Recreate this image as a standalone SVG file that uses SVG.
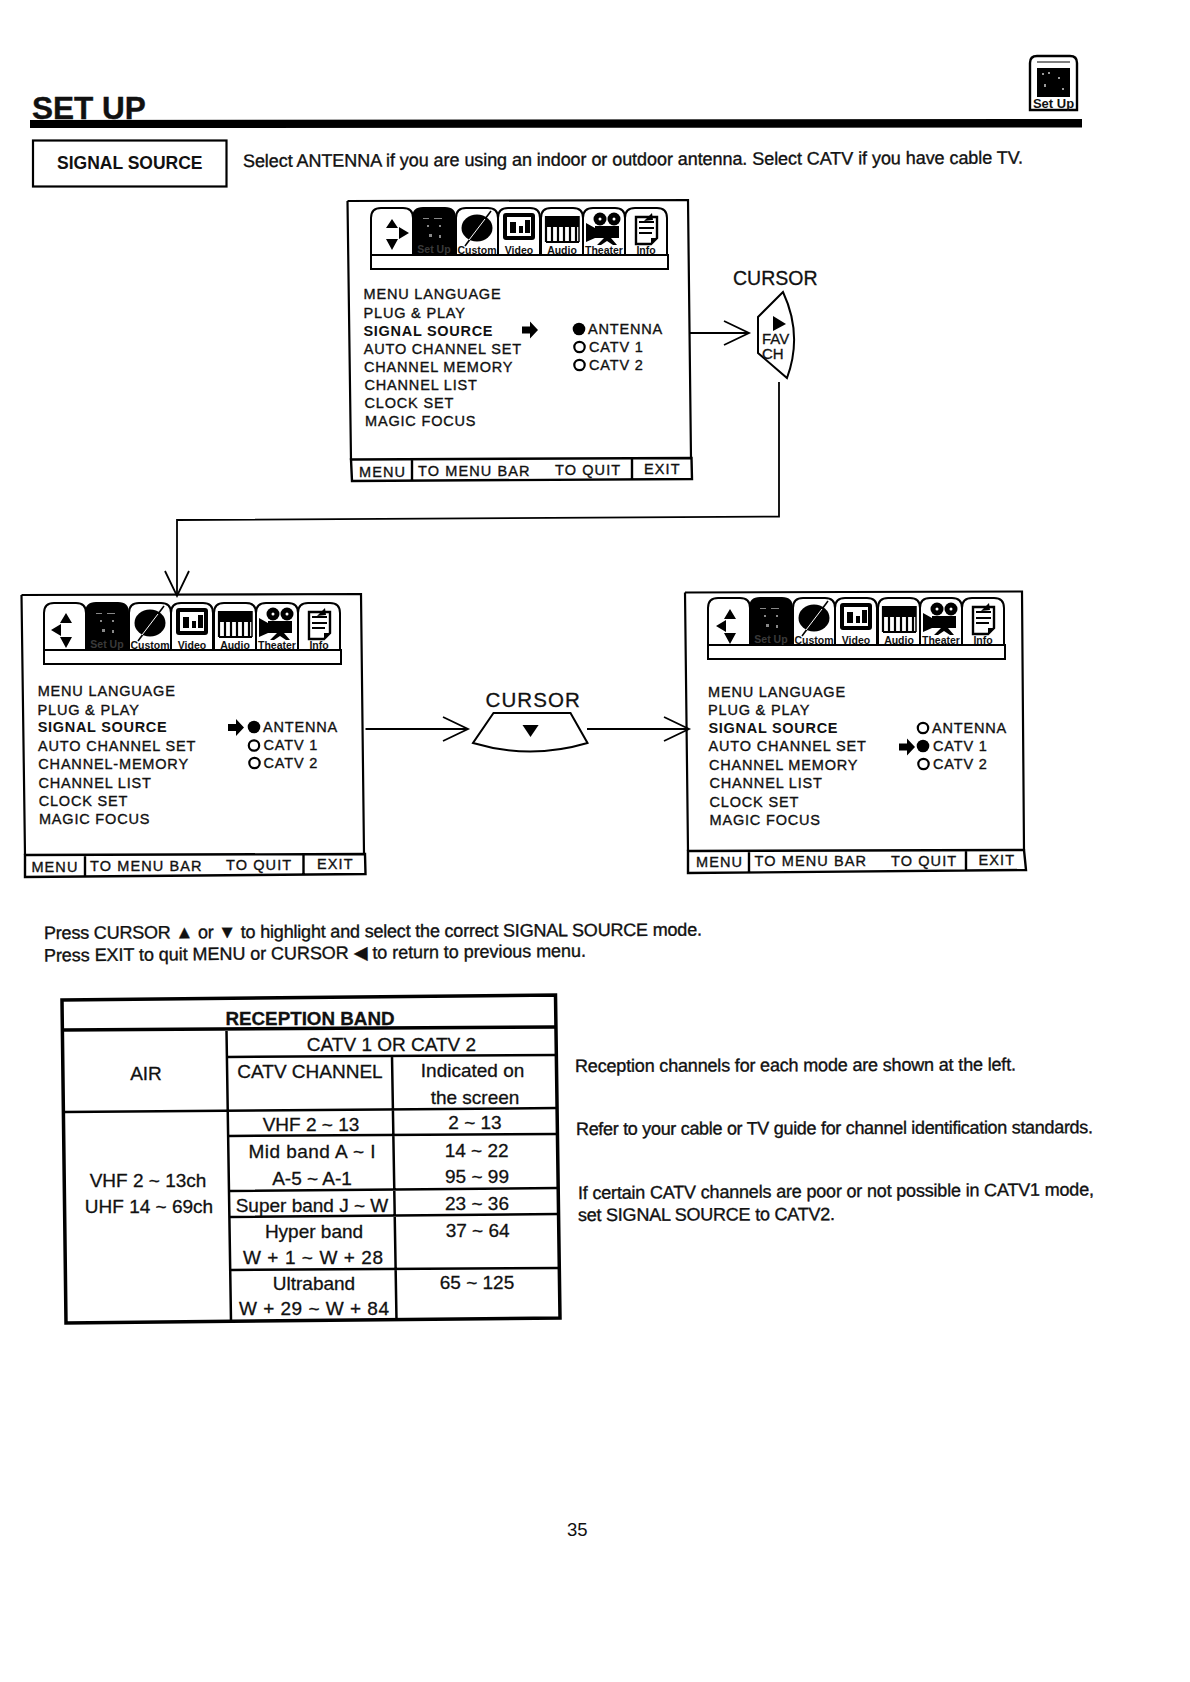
<svg xmlns="http://www.w3.org/2000/svg" xmlns:xlink="http://www.w3.org/1999/xlink" width="1190" height="1682" viewBox="0 0 1190 1682">
<style>
text{font-family:"Liberation Sans","DejaVu Sans",sans-serif;fill:#111}
.m{font-size:14.5px;letter-spacing:.82px;stroke:#111;stroke-width:.35px}
.mt{font-size:14.5px;letter-spacing:1.1px;stroke:#111;stroke-width:.35px}
.mb{font-size:14.5px;letter-spacing:.7px;font-weight:bold}
.body{font-size:18px;stroke:#111;stroke-width:.35px}
.t{font-size:19px;text-anchor:middle;stroke:#111;stroke-width:.3px}
.cell{stroke:#000;stroke-width:2.5;fill:none}
.box{stroke:#000;stroke-width:2.2;fill:none}
.bar{stroke:#000;stroke-width:2.4;fill:none}
.conn{stroke:#000;stroke-width:1.8;fill:none;marker-end:url(#open)}
.lbl{font-size:10.5px;font-weight:bold;text-anchor:middle}
.k{fill:#000}.w{fill:#fff}
.ol{fill:#fff;stroke:#000;stroke-width:2}
.on{fill:none;stroke:#000;stroke-width:2.2}
</style>
<defs>
<marker id="open" markerUnits="userSpaceOnUse" markerWidth="28" markerHeight="28" refX="26" refY="13" orient="auto" overflow="visible"><path d="M1,1 L26,13 L1,25" fill="none" stroke="#000" stroke-width="1.8"/></marker>
<path id="fat" d="M0,-3.500 H8 V-8.500 L16,0 L8,8.500 V3.500 H0Z"/>
<g id="strip">
<rect x="0" y="47" width="297" height="14" fill="#fff" stroke="#000" stroke-width="2"/>
<path class="ol" d="M0,47 V10 Q0,0 10,0 H32 Q42,0 42,10 V47Z"/>
<path class="k" stroke="#000" stroke-width="2" d="M42,47 V10 Q42,0 52,0 H74 Q84,0 84,10 V47Z"/>
<g fill="#888"><rect x="52" y="10" width="6" height="1"/><rect x="63" y="10" width="8" height="1"/><rect x="56" y="17" width="2" height="2"/><rect x="68" y="17" width="2" height="2"/><rect x="58" y="26" width="3" height="3"/><rect x="68" y="27" width="2" height="3"/></g>
<text x="63" y="45" class="lbl" style="fill:#3a3a3a;stroke:none">Set Up</text>
<path class="ol" d="M85,47 V10 Q85,0 95,0 H117 Q127,0 127,10 V47Z"/>
<ellipse cx="106" cy="20" rx="15.500" ry="13.500" class="k"/>
<path d="M94,38 L120,3" stroke="#000" stroke-width="1.600"/><path d="M98,32 L114,11" stroke="#fff" stroke-width="1"/>
<text x="106" y="46" class="lbl">Custom</text>
<path class="ol" d="M127,47 V10 Q127,0 137,0 H159 Q169,0 169,10 V47Z"/>
<rect x="132" y="5" width="32" height="27" rx="3" class="k"/><rect x="136" y="9" width="24" height="19" class="w"/>
<rect x="139" y="14" width="6" height="11" class="k"/><rect x="148" y="18" width="4" height="7" class="k"/><rect x="154" y="12" width="5" height="13" class="k"/>
<text x="148" y="46" class="lbl">Video</text>
<path class="ol" d="M170,47 V10 Q170,0 180,0 H202 Q212,0 212,10 V47Z"/>
<rect x="174" y="8" width="34" height="11" class="k"/>
<path d="M175,8 V34 M181,8 V34 M187,8 V34 M193,8 V34 M199,8 V34 M205,8 V34 M175,34 H208" stroke="#000" stroke-width="2.200" fill="none"/>
<path d="M208,8 V34" stroke="#000" stroke-width="1.500"/>
<text x="191" y="46" class="lbl">Audio</text>
<path class="ol" d="M212,47 V10 Q212,0 222,0 H244 Q254,0 254,10 V47Z"/>
<circle cx="229" cy="11" r="6.500" class="k"/><circle cx="243" cy="11" r="6.500" class="k"/><circle cx="229" cy="11" r="1.500" class="w"/><circle cx="243" cy="11" r="1.500" class="w"/>
<path class="k" d="M224,18 H248 V30 H224 L215,34 V15 L224,20Z M233,30 H240 L246,37 H242 L236,33 L230,37 H226Z"/>
<text x="233" y="46" class="lbl">Theater</text>
<path class="ol" d="M254,47 V10 Q254,0 264,0 H286 Q296,0 296,10 V47Z"/>
<path d="M265,9 H286 V30 L280,36 H265Z" fill="#fff" stroke="#000" stroke-width="2.400"/>
<path d="M268,14 H283 M268,20 H283 M268,25 H281" stroke="#000" stroke-width="2"/>
<path d="M273,13 L281,5 L282,12Z M280,36 V30 H286Z" class="k"/>
<text x="275" y="46" class="lbl">Info</text>
</g>
</defs>
<rect width="1190" height="1682" fill="#fff"/>

<g id="header">
<text x="32" y="119" style="font-size:31.500px;font-weight:bold;stroke:#111;stroke-width:.4px">SET UP</text>
<path class="k" d="M30,120 L1082,119 V127.500 L30,128Z"/>
<g id="setup-icon">
<path d="M1030,110 V63 Q1030,56 1037,56 H1070 Q1077,56 1077,63 V110Z" fill="#fff" stroke="#000" stroke-width="2.400"/>
<path d="M1037,62 H1070" stroke="#000" stroke-width="1"/>
<rect x="1037" y="68" width="33" height="29" class="k"/>
<g fill="#999"><rect x="1042" y="73" width="2" height="2"/><rect x="1048" y="72" width="2" height="2"/><rect x="1058" y="77" width="2" height="2"/><rect x="1044" y="84" width="2" height="3"/><rect x="1062" y="88" width="2" height="2"/></g>
<text x="1053.500" y="108" style="font-size:13px;font-weight:bold;text-anchor:middle">Set Up</text>
</g>
</g>

<g id="signal-source">
<rect x="33" y="140.500" width="193.500" height="46" class="box"/>
<text x="57" y="169" style="font-size:17.500px;font-weight:bold">SIGNAL SOURCE</text>
</g>
<text id="intro" x="243" y="167" class="body" textLength="780" transform="rotate(-.25 243 167)">Select ANTENNA if you are using an indoor or outdoor antenna.  Select CATV if you have cable TV.</text>

<g id="menu-top">
<path class="box" d="M347.500,201 L688,200 L691,459 M347.500,201 L351,460"/>
<path class="bar" d="M351,459.500 L691.500,458 L692,479 L352,481Z M412,459 V480 M632,458 V480"/>
<use xlink:href="#strip" href="#strip" x="371" y="208"/>
<path class="k" d="M392,221 L398,230 H386Z M392,252 L398,241 H386Z M409,235 L399,229 V241Z" transform="translate(0,-2)"/>
<text x="363.500" y="299.300" class="m">MENU LANGUAGE</text>
<text x="363.500" y="317.700" class="m">PLUG &amp; PLAY</text>
<text x="363.500" y="335.700" class="mb">SIGNAL SOURCE</text>
<text x="363.700" y="353.700" class="m">AUTO CHANNEL SET</text>
<text x="364" y="371.700" class="m">CHANNEL MEMORY</text>
<text x="364.500" y="390" class="m">CHANNEL LIST</text>
<text x="364.500" y="408" class="m">CLOCK SET</text>
<text x="365" y="426.300" class="m">MAGIC FOCUS</text>
<use xlink:href="#fat" href="#fat" x="522" y="330"/>
<circle cx="579" cy="329" r="6.300"/><circle cx="579.500" cy="347" r="5.200" class="on"/><circle cx="579.500" cy="365" r="5.200" class="on"/>
<text x="588" y="334" class="m">ANTENNA</text>
<text x="589" y="352" class="m">CATV 1</text>
<text x="589" y="370" class="m">CATV 2</text>
<text x="359" y="477" class="mt">MENU</text>
<text x="418" y="476" class="mt">TO MENU BAR</text>
<text x="555" y="475" class="mt">TO QUIT</text>
<text x="644" y="474" class="mt">EXIT</text>
</g>

<g id="cursor-right">
<text x="733" y="285" style="font-size:19.500px;stroke:#111;stroke-width:.3px">CURSOR</text>
<path d="M783,292 L758,317 L758,353 L787,378 Q803,335 783,292Z" fill="#fff" stroke="#000" stroke-width="2"/>
<path class="k" d="M773,316 L786,324 L773,331Z"/>
<text x="762" y="344" style="font-size:15px;stroke:#111;stroke-width:.3px">FAV</text>
<text x="762" y="359" style="font-size:15px;stroke:#111;stroke-width:.3px">CH</text>
</g>

<g id="menu-left">
<path class="box" d="M21.500,595 L361,594 L364,854 M21.500,595 L25,855"/>
<path class="bar" d="M25,855 L365,854 L365.500,874 L25,877Z M85,855 V876 M303.500,854 V875"/>
<use xlink:href="#strip" href="#strip" x="44" y="603"/>
<path class="k" d="M66,615 L72,625 H60Z M66,650 L72,639 H60Z M51,632 L61,626 V638Z" transform="translate(0,-2)"/>
<text x="37.700" y="695.700" class="m">MENU LANGUAGE</text>
<text x="37.500" y="714.700" class="m">PLUG &amp; PLAY</text>
<text x="37.700" y="732" class="mb">SIGNAL SOURCE</text>
<text x="38" y="751" class="m">AUTO CHANNEL SET</text>
<text x="38.300" y="769" class="m">CHANNEL-MEMORY</text>
<text x="38.500" y="787.500" class="m">CHANNEL LIST</text>
<text x="38.700" y="805.700" class="m">CLOCK SET</text>
<text x="38.900" y="824" class="m">MAGIC FOCUS</text>
<use xlink:href="#fat" href="#fat" x="228" y="727.500"/>
<circle cx="254" cy="727" r="6.300"/><circle cx="254" cy="745.500" r="5.200" class="on"/><circle cx="254.500" cy="763" r="5.200" class="on"/>
<text x="263" y="731.500" class="m">ANTENNA</text>
<text x="263.500" y="750" class="m">CATV 1</text>
<text x="263.500" y="767.500" class="m">CATV 2</text>
<text x="31.400" y="871.700" class="mt">MENU</text>
<text x="90" y="871" class="mt">TO MENU BAR</text>
<text x="226" y="870" class="mt">TO QUIT</text>
<text x="317" y="869" class="mt">EXIT</text>
</g>

<g id="cursor-down">
<text x="485.500" y="707" style="font-size:20.500px;letter-spacing:1.100px;stroke:#111;stroke-width:.3px">CURSOR</text>
<path d="M493.500,713 H570.500 L587.500,743 Q530,760 473,743Z" fill="#fff" stroke="#000" stroke-width="2"/>
<path class="k" d="M522.500,725 H538.600 L530.500,737Z"/>
</g>

<g id="menu-right">
<path class="box" d="M685,592.500 L1022,591.500 L1024,850 M685,592.500 L688,851"/>
<path class="bar" d="M688,851 L1024,850 L1026,870 L688,873Z M749,851 V872 M966,850 V871"/>
<use xlink:href="#strip" href="#strip" x="708" y="598"/>
<path class="k" d="M730,610 L736,620 H724Z M730,645 L736,634 H724Z M716,627 L726,621 V633Z" transform="translate(0,-1)"/>
<text x="708" y="696.500" class="m">MENU LANGUAGE</text>
<text x="708" y="715" class="m">PLUG &amp; PLAY</text>
<text x="708.500" y="733" class="mb">SIGNAL SOURCE</text>
<text x="708.500" y="751" class="m">AUTO CHANNEL SET</text>
<text x="709" y="769.500" class="m">CHANNEL MEMORY</text>
<text x="709.500" y="788" class="m">CHANNEL LIST</text>
<text x="709.500" y="806.500" class="m">CLOCK SET</text>
<text x="709.500" y="825" class="m">MAGIC FOCUS</text>
<use xlink:href="#fat" href="#fat" x="899" y="747"/>
<circle cx="923" cy="728" r="5.200" class="on"/><circle cx="923" cy="746" r="6.300"/><circle cx="923.500" cy="764" r="5.200" class="on"/>
<text x="932" y="733" class="m">ANTENNA</text>
<text x="933" y="751" class="m">CATV 1</text>
<text x="933" y="769" class="m">CATV 2</text>
<text x="696" y="866.700" class="mt">MENU</text>
<text x="754.500" y="866" class="mt">TO MENU BAR</text>
<text x="891" y="865.500" class="mt">TO QUIT</text>
<text x="978.500" y="865" class="mt">EXIT</text>
</g>

<g id="connectors">
<path class="conn" d="M689.500,333 H749"/>
<path class="conn" d="M779,382 V516.500 L177,520 V596"/>
<path class="conn" d="M365.500,729 H468"/>
<path class="conn" d="M587,729 H689"/>
</g>

<text id="press1" x="44" y="939" class="body" textLength="658" transform="rotate(-.3 44 939)">Press CURSOR ▲ or ▼ to highlight and select the correct SIGNAL SOURCE mode.</text>
<text id="press2" x="44" y="961.500" class="body" textLength="542" transform="rotate(-.5 44 961.500)">Press EXIT to quit MENU or CURSOR ◀ to return to previous menu.</text>

<g id="reception-table">
<path class="cell" style="stroke-width:3.500" d="M62,1000 L555.500,995 L560,1318 L66,1323Z"/>
<path class="cell" style="stroke-width:3.500" d="M63,1030 L556,1027"/>
<path class="cell" d="M226.500,1031 L231,1321 M392,1056 L396.500,1320 M226.500,1057 L556,1055 M64,1112 L557,1108 M228,1136 L557,1134 M229,1191 L558,1188 M230,1217 L558,1214 M231,1270 L559,1268"/>
<text x="310" y="1025" class="t" style="font-weight:bold;font-size:18.800px">RECEPTION BAND</text>
<text x="391.500" y="1051" class="t">CATV 1 OR CATV 2</text>
<text x="146" y="1080" class="t">AIR</text>
<text x="310" y="1078" class="t">CATV CHANNEL</text>
<text x="472.600" y="1077" class="t">Indicated on</text>
<text x="475" y="1104" class="t">the screen</text>
<text x="311" y="1131" class="t">VHF 2 ~ 13</text>
<text x="475" y="1129" class="t">2 ~ 13</text>
<text x="312" y="1158" class="t" textLength="127">Mid band A ~ I</text>
<text x="476.600" y="1157" class="t">14 ~ 22</text>
<text x="312" y="1185" class="t">A-5 ~ A-1</text>
<text x="477" y="1183" class="t">95 ~ 99</text>
<text x="312" y="1212" class="t">Super band J ~ W</text>
<text x="477" y="1210" class="t">23 ~ 36</text>
<text x="314" y="1238" class="t">Hyper band</text>
<text x="477.600" y="1237" class="t">37 ~ 64</text>
<text x="313" y="1264" class="t" textLength="140">W + 1 ~ W + 28</text>
<text x="314" y="1290" class="t">Ultraband</text>
<text x="477" y="1289" class="t">65 ~ 125</text>
<text x="314" y="1315" class="t" textLength="150">W + 29 ~ W + 84</text>
<text x="148" y="1187" class="t">VHF 2 ~ 13ch</text>
<text x="149" y="1213" class="t">UHF 14 ~ 69ch</text>
</g>

<g id="notes">
<text x="575" y="1072" class="body" textLength="441" transform="rotate(-.2 575 1072)">Reception channels for each mode are shown at the left.</text>
<text x="576" y="1135" class="body" textLength="517" transform="rotate(-.2 576 1135)">Refer to your cable or TV guide for channel identification standards.</text>
<text x="578" y="1199" class="body" textLength="516" transform="rotate(-.4 578 1199)">If certain CATV channels are poor or not possible in CATV1 mode,</text>
<text x="578" y="1221" class="body" textLength="257" transform="rotate(-.2 578 1221)">set SIGNAL SOURCE to CATV2.</text>
</g>
<text id="page" x="567" y="1536" style="font-size:18.500px">35</text>
</svg>
